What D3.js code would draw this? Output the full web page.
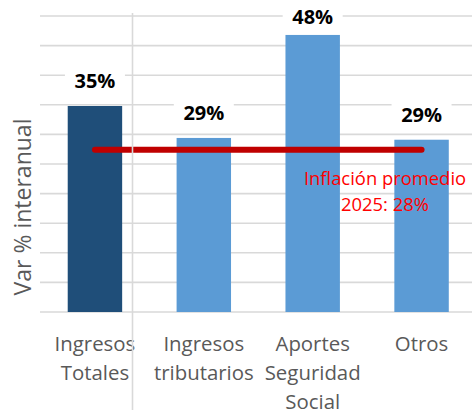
<!DOCTYPE html>
<html>
<head>
<meta charset="utf-8">
<script src="https://cdn.jsdelivr.net/npm/d3@7"></script>
<style>
  html, body { margin: 0; padding: 0; background: #fff; }
  svg { display: block; font-family: "Open Sans", sans-serif; }
</style>
</head>
<body>
<div id="chart"></div>
<script>
// data
const categories = ["Ingresos Totales", "Ingresos tributarios", "Aportes Seguridad Social", "Otros"];
const catLines = [["Ingresos", "Totales"], ["Ingresos", "tributarios"], ["Aportes", "Seguridad", "Social"], ["Otros"]];
const values = [34.8, 29.4, 46.8, 29.1];
const valueLabels = ["35%", "29%", "48%", "29%"];
const barColors = ["#1F4E79", "#5B9BD5", "#5B9BD5", "#5B9BD5"];
const inflation = 27.4;
const inflationText = ["Inflación promedio", "2025: 28%"];
const yTicks = d3.range(0, 51, 5);

const width = 472, height = 414;

const svg = d3.select('#chart').append('svg')
    .attr('width', width)
    .attr('height', height);

const x = d3.scaleBand()
    .domain(categories)
    .range([40.5, 476])
    .paddingInner(0.5)
    .paddingOuter(0.25);

const y = d3.scaleLinear()
    .domain([0, 50])
    .range([312, 16]);

// gridlines
svg.append('g')
    .selectAll('line')
    .data(yTicks)
    .join('line')
    .attr('x1', 40)
    .attr('x2', width)
    .attr('y1', d => y(d))
    .attr('y2', d => y(d))
    .attr('stroke', '#d9d9d9')
    .attr('stroke-width', 1.6);

// bars
svg.append('g')
    .selectAll('rect')
    .data(values)
    .join('rect')
    .attr('x', (d, i) => x(categories[i]))
    .attr('width', x.bandwidth())
    .attr('y', d => y(d))
    .attr('height', d => y(0) - y(d))
    .attr('fill', (d, i) => barColors[i]);

// value labels with white boxes
const cx = i => x(categories[i]) + x.bandwidth() / 2;
const labelY = d => Math.max(y(d) - 18, 24);

const lab = svg.append('g')
    .selectAll('g')
    .data(values)
    .join('g')
    .attr('transform', (d, i) => `translate(${cx(i)},${labelY(d)})`);

lab.append('rect')
    .attr('x', -30)
    .attr('y', -23)
    .attr('width', 60)
    .attr('height', 31)
    .attr('fill', '#fff');

lab.append('text')
    .attr('text-anchor', 'middle')
    .attr('font-size', 20)
    .attr('font-weight', 'bold')
    .attr('fill', '#000')
    .text((d, i) => valueLabels[i]);

// inflation line
svg.append('line')
    .attr('x1', cx(0))
    .attr('x2', cx(categories.length - 1))
    .attr('y1', y(inflation))
    .attr('y2', y(inflation))
    .attr('stroke', '#C00000')
    .attr('stroke-width', 6)
    .attr('stroke-linecap', 'round');

svg.append('text')
    .attr('x', 385)
    .attr('y', 185)
    .attr('text-anchor', 'middle')
    .attr('font-size', 18.4)
    .attr('fill', '#FF0000')
    .selectAll('tspan')
    .data(inflationText)
    .join('tspan')
    .attr('x', 385)
    .attr('dy', (d, i) => i ? 25.6 : 0)
    .text(d => d);

// category labels
svg.append('g')
    .selectAll('text')
    .data(catLines)
    .join('text')
    .attr('text-anchor', 'middle')
    .attr('font-size', 20.4)
    .attr('fill', '#595959')
    .attr('y', 350.5)
    .each(function (lines, i) {
        d3.select(this).selectAll('tspan')
            .data(lines)
            .join('tspan')
            .attr('x', cx(i))
            .attr('dy', (d, j) => j ? 29 : 0)
            .text(d => d);
    });

// separator line
svg.append('line')
    .attr('x1', 132.5)
    .attr('x2', 132.5)
    .attr('y1', 13)
    .attr('y2', 410)
    .attr('stroke', '#d9d9d9')
    .attr('stroke-width', 1.6);

// y title
svg.append('text')
    .attr('transform', 'translate(31,207) rotate(-90)')
    .attr('text-anchor', 'middle')
    .attr('font-size', 23)
    .attr('fill', '#595959')
    .text('Var % interanual');
</script>
</body>
</html>
